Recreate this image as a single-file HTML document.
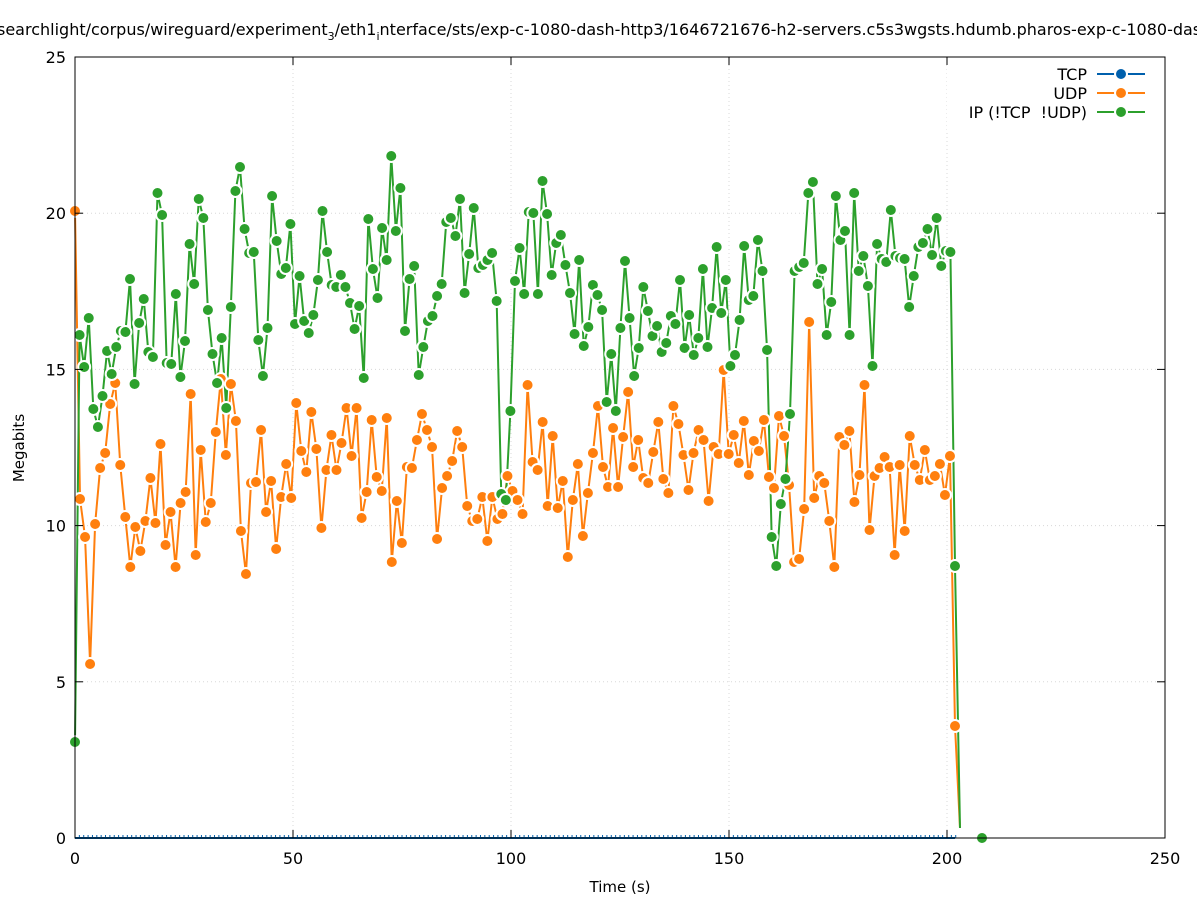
<!DOCTYPE html>
<html><head><meta charset="utf-8"><style>
html,body{margin:0;padding:0;background:#fff;}
svg{display:block;font-family:"DejaVu Sans","Liberation Sans",sans-serif;}
</style></head><body>
<svg id="s" width="1197" height="900" xmlns="http://www.w3.org/2000/svg">
<rect width="1197" height="900" fill="#fff"/>
<g id="grid" stroke="#d8d8d8" stroke-width="1" stroke-dasharray="1,3"></g>
<text x="-3" y="35" font-size="16" fill="#000">searchlight/corpus/wireguard/experiment<tspan font-size="11" dy="5">3</tspan><tspan dy="-5">/eth1</tspan><tspan font-size="11" dy="5">i</tspan><tspan dy="-5">nterface/sts/exp-c-1080-dash-http3/1646721676-h2-servers.c5s3wgsts.hdumb.pharos-exp-c-1080-dash</tspan></text>
<g id="data"></g>
<rect x="947" y="60" width="216" height="70" fill="#fff"/>
<g font-size="16" text-anchor="end" fill="#000" style="white-space:pre">
<text x="1087" y="80">TCP</text>
<text x="1087" y="99">UDP</text>
<text x="1087" y="118" xml:space="preserve">IP (!TCP  !UDP)</text>
</g>
<g stroke-width="2">
<line x1="1097" y1="74" x2="1145" y2="74" stroke="#0060ad"/><circle cx="1121" cy="74" r="6" fill="#0060ad" stroke="#fff" stroke-width="2"/>
<line x1="1097" y1="93" x2="1145" y2="93" stroke="#ff7f0e"/><circle cx="1121" cy="93" r="6" fill="#ff7f0e" stroke="#fff" stroke-width="2"/>
<line x1="1097" y1="112" x2="1145" y2="112" stroke="#2ca02c"/><circle cx="1121" cy="112" r="6" fill="#2ca02c" stroke="#fff" stroke-width="2"/>
</g>
<rect x="75" y="57" width="1090" height="781" fill="none" stroke="#000" stroke-width="1"/>
<g id="ticks" stroke="#000" stroke-width="1"></g>
<g id="labels" font-size="16" fill="#000"></g>
<text x="620" y="892" font-size="15" text-anchor="middle">Time (s)</text>
<text transform="translate(24,448) rotate(-90)" font-size="15" text-anchor="middle">Megabits</text>
</svg>
<script>
var NS="http://www.w3.org/2000/svg";
function el(p,t,a,txt){var e=document.createElementNS(NS,t);for(var k in a)e.setAttribute(k,a[k]);if(txt!=null)e.textContent=txt;document.getElementById(p).appendChild(e);return e;}
var X0=75,X1=1165,Y0=838,Y1=57;
for(var i=0;i<=5;i++){var x=X0+i*(X1-X0)/5;
 if(i>0&&i<5)el("grid","line",{x1:x,y1:Y1,x2:x,y2:Y0});
 el("ticks","line",{x1:x,y1:Y0,x2:x,y2:Y0-8});el("ticks","line",{x1:x,y1:Y1,x2:x,y2:Y1+8});
 el("labels","text",{x:x,y:864,"text-anchor":"middle"},String(i*50));}
for(var j=0;j<=5;j++){var y=Y0-j*(Y0-Y1)/5;
 if(j>0&&j<5)el("grid","line",{x1:X0,y1:y,x2:X1,y2:y});
 el("ticks","line",{x1:X0,y1:y,x2:X0+8,y2:y});el("ticks","line",{x1:X1,y1:y,x2:X1-8,y2:y});
 el("labels","text",{x:66,y:y+6,"text-anchor":"end"},String(j*5));}
var G=[742,335,367,318,409,427,396,351,374,347,331,332,279,384,323,299,352,357,193,215,363,364,294,377,341,244,284,199,218,310,354,383,338,408,307,191,167,229,253,252,340,376,328,196,241,274,268,224,324,276,321,333,315,280,211,252,285,287,275,287,303,329,306,378,219,269,298,228,260,156,231,188,331,279,266,375,347,321,316,296,284,222,218,236,199,293,254,208,268,265,260,253,301,494,500,411,281,248,294,212,213,294,181,214,275,243,235,265,293,334,260,346,327,285,295,310,402,354,411,328,261,318,376,348,287,311,336,326,352,343,316,324,280,348,315,355,338,269,347,308,247,313,280,366,355,320,246,300,296,240,271,350,537,566,504,479,414,271,267,263,193,182,284,269,335,302,196,240,231,335,193,271,256,286,366,244,259,262,210,256,258,259,307,276,247,243,229,255,218,266,251,252,566];
var O=[211,499,537,664,524,468,453,404,383,465,517,567,527,551,521,478,523,444,545,512,567,503,492,394,555,450,522,503,432,379,455,384,421,531,574,483,482,430,512,481,549,497,464,498,403,451,472,412,449,528,470,435,470,443,408,456,408,518,492,420,477,491,418,562,501,543,467,468,440,414,430,447,539,488,476,461,431,447,506,521,519,497,541,497,519,514,476,491,500,514,385,462,470,422,506,436,508,481,557,500,464,536,493,453,406,467,487,428,487,437,392,467,440,478,483,452,422,479,493,406,424,455,490,453,430,440,501,447,454,370,454,435,463,421,475,441,451,420,477,488,416,436,485,562,559,509,322,498,476,483,521,567,437,445,431,502,475,385,530,476,468,457,467,555,465,531,436,465,480,450,480,476,464,495,456,726];
function series(arr,color,endPts){
 var n=arr.length,pts=[];
 for(var i=0;i<n;i++)pts.push([X0+(955-X0)*i/(n-1),arr[i]]);
 var all=pts.concat(endPts);
 el("data","polyline",{points:all.map(function(p){return p.join(",")}).join(" "),fill:"none",stroke:color,"stroke-width":2});
 return pts;
}
el("data","line",{x1:X0,y1:Y0,x2:955,y2:Y0,stroke:"#0060ad","stroke-width":2});
for(var t=0;t<=202;t++)el("data","line",{x1:X0+4.36*t,y1:Y0,x2:X0+4.36*t,y2:Y0-3,stroke:"#0060ad","stroke-width":1});
var po=series(O,"#ff7f0e",[[960,828]]);
var pg=series(G,"#2ca02c",[[960,828]]);
po.forEach(function(p){el("data","circle",{cx:p[0],cy:p[1],r:6,fill:"#ff7f0e",stroke:"#fff","stroke-width":2});});
pg.forEach(function(p){el("data","circle",{cx:p[0],cy:p[1],r:6,fill:"#2ca02c",stroke:"#fff","stroke-width":2});});
el("data","circle",{cx:982,cy:838,r:6,fill:"#2ca02c",stroke:"#fff","stroke-width":2});
</script>
</body></html>
